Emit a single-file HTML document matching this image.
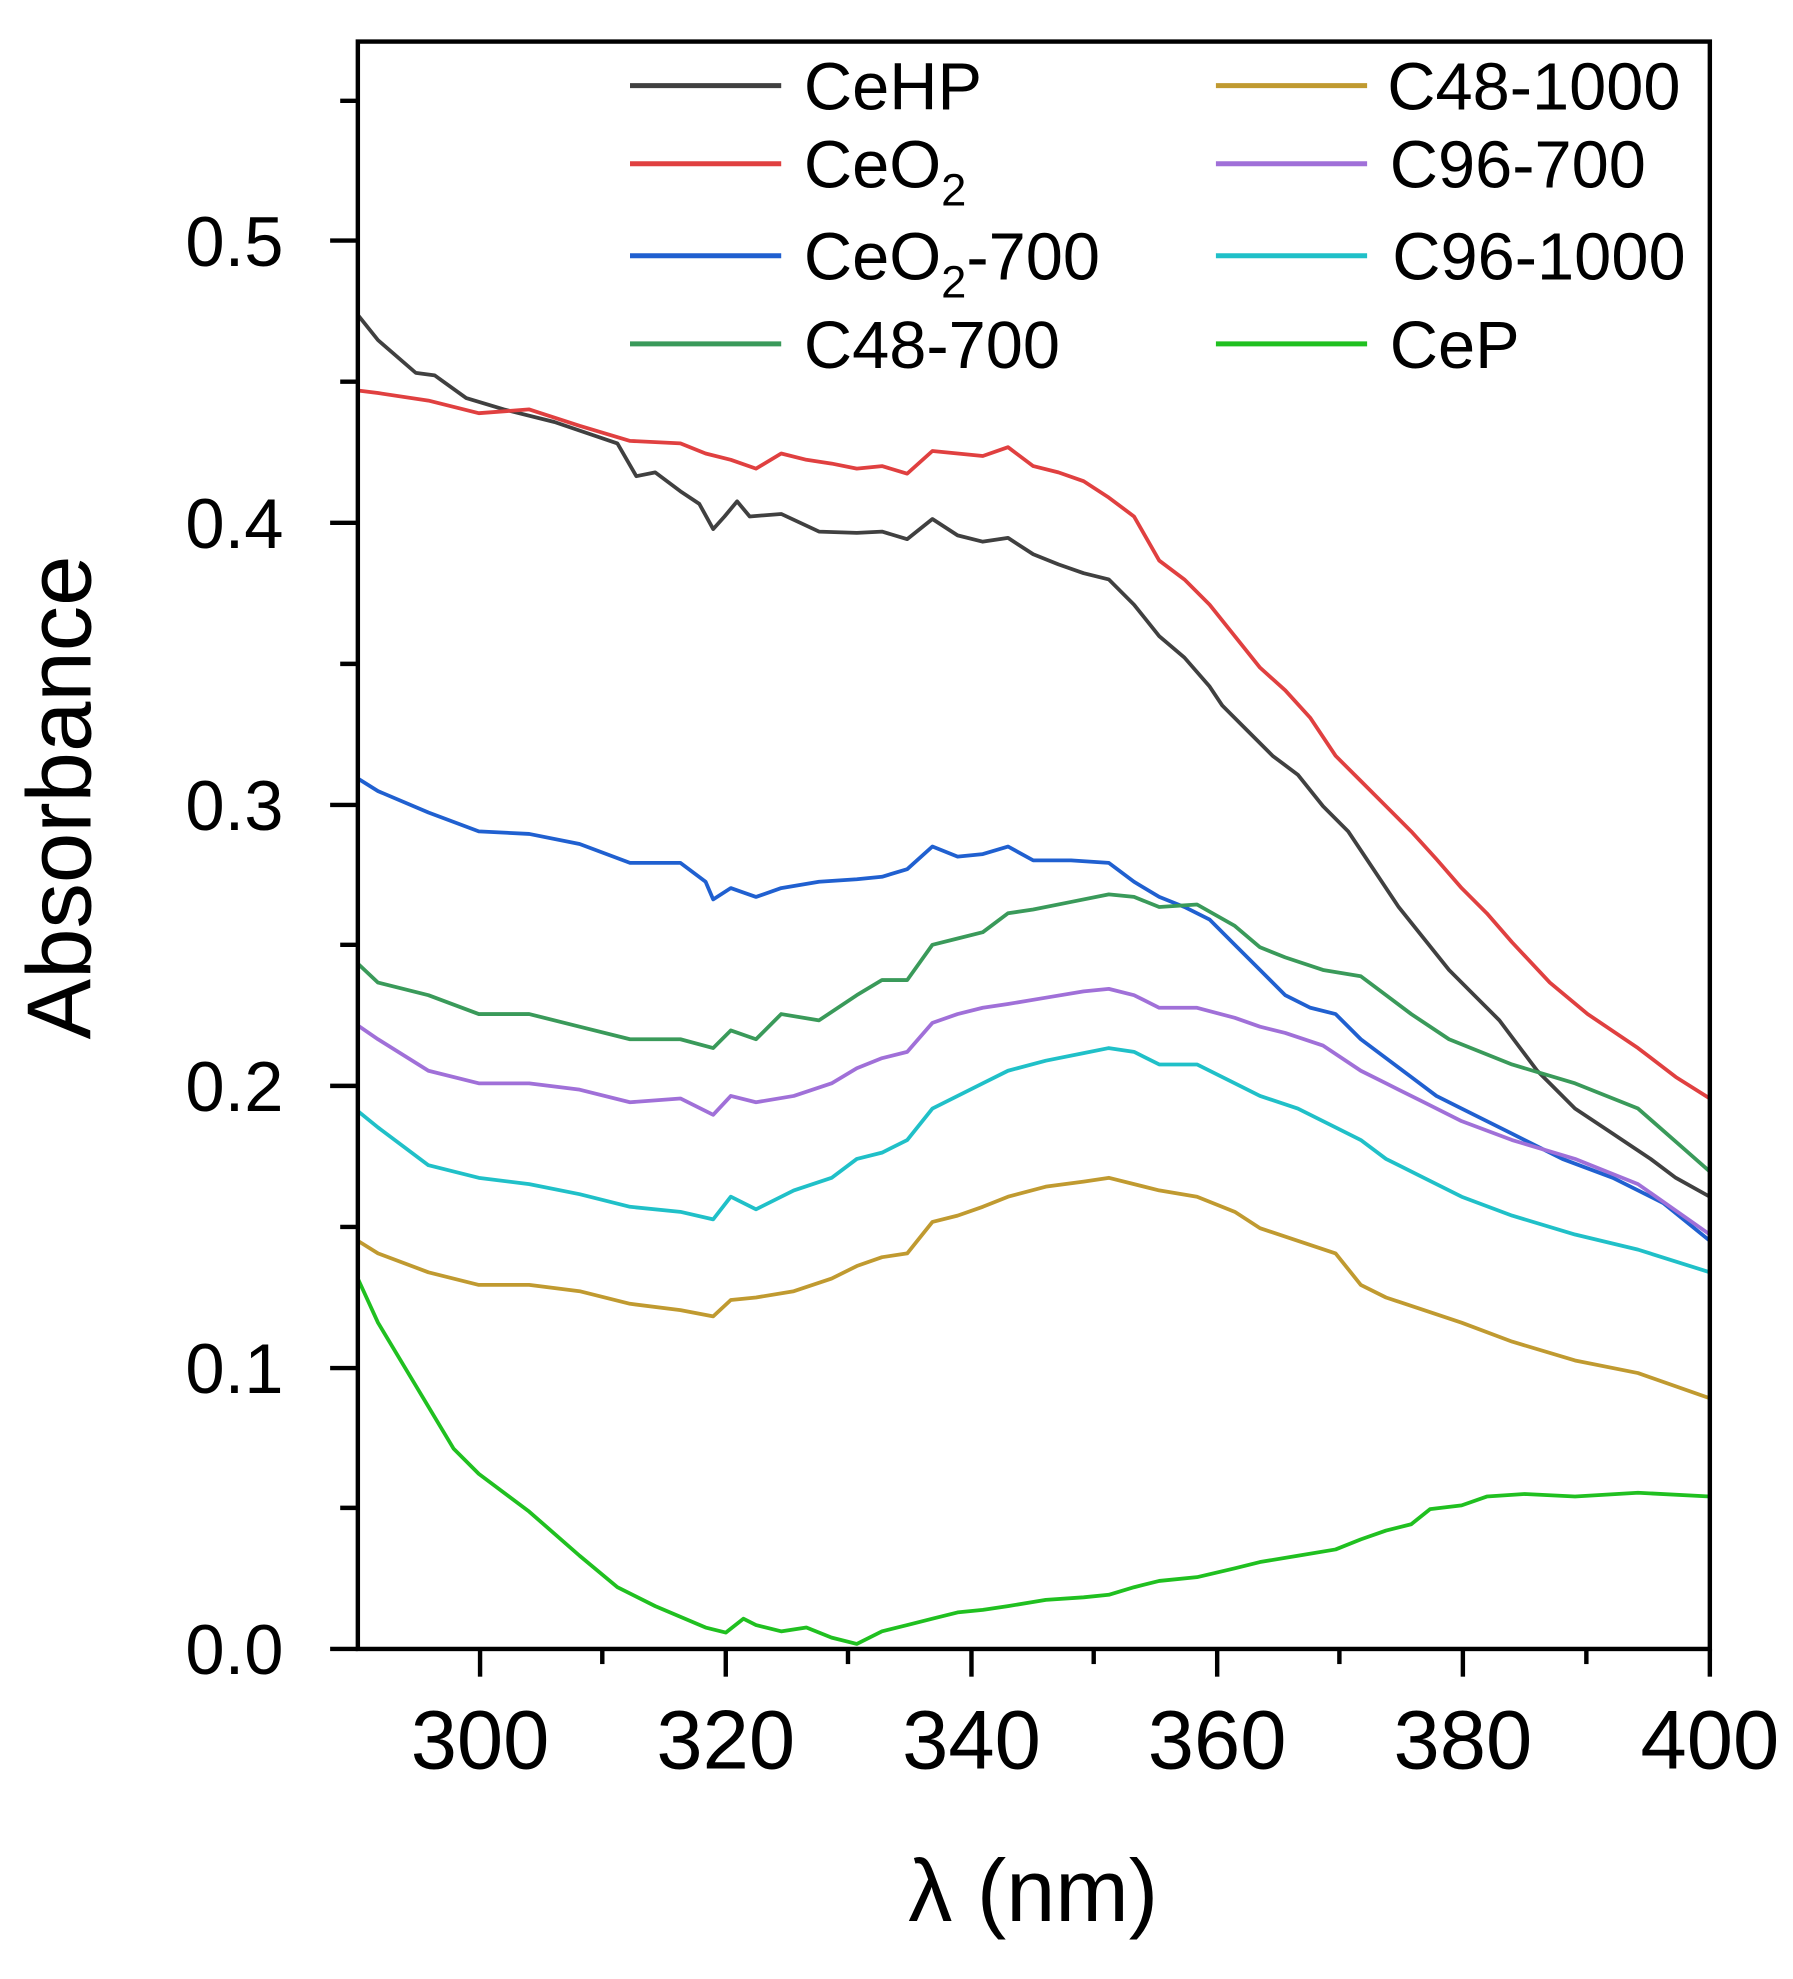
<!DOCTYPE html>
<html><head><meta charset="utf-8"><style>html,body{margin:0;padding:0;background:#fff}svg{display:block}</style></head>
<body>
<svg width="1793" height="1979" viewBox="0 0 1423 1571" preserveAspectRatio="none" xmlns="http://www.w3.org/2000/svg" font-family="Liberation Sans, Arial, sans-serif">
<rect width="1423" height="1571" fill="#fff"/>
<g fill="none" stroke-width="3" stroke-linejoin="round">
<polyline stroke="#404040" points="284,250 300,270 330,296 345,298 370,316 400,325 440,335 490,352 505,378 520,375 540,390 555,400 566,420 575,410 585,398 595,410 620,408 650,422 680,423 700,422 720,428 740,412 760,425 780,430 800,427 820,440 840,448 860,455 880,460 900,480 920,505 940,522 960,545 970,560 990,580 1010,600 1030,615 1050,640 1070,660 1090,690 1110,720 1130,745 1150,770 1170,790 1190,810 1220,850 1250,880 1280,900 1310,920 1330,935 1357,950"/>
<polyline stroke="#e04040" points="284,310 300,312 340,318 380,328 420,325 460,338 500,350 540,352 560,360 580,365 600,372 620,360 640,365 660,368 680,372 700,370 720,376 740,358 760,360 780,362 800,355 820,370 840,375 860,382 880,395 900,410 920,445 940,460 960,480 980,505 1000,530 1020,548 1040,570 1060,600 1080,620 1100,640 1120,660 1140,682 1160,705 1180,725 1200,748 1230,780 1260,805 1300,832 1330,855 1357,872"/>
<polyline stroke="#2060d0" points="284,618 300,628 340,645 380,660 420,662 460,670 500,685 540,685 560,700 566,714 580,705 600,712 620,705 650,700 680,698 700,696 720,690 740,672 760,680 780,678 800,672 820,683 850,683 880,685 900,700 920,712 940,720 960,730 980,750 1000,770 1020,790 1040,800 1060,805 1080,825 1100,840 1120,855 1140,870 1160,880 1200,900 1240,920 1280,935 1320,955 1357,985"/>
<polyline stroke="#3a9a5a" points="284,765 300,780 340,790 380,805 420,805 460,815 500,825 540,825 566,832 580,818 600,825 620,805 650,810 680,790 700,778 720,778 740,750 760,745 780,740 800,725 820,722 850,716 880,710 900,712 920,720 950,718 980,735 1000,752 1020,760 1050,770 1080,775 1100,790 1120,805 1150,825 1200,845 1250,860 1300,880 1357,930"/>
<polyline stroke="#a070d8" points="284,814 300,825 340,850 380,860 420,860 460,865 500,875 540,872 566,885 580,870 600,875 630,870 660,860 680,848 700,840 720,835 740,812 760,805 780,800 800,797 830,792 860,787 880,785 900,790 920,800 950,800 980,808 1000,815 1020,820 1050,830 1080,850 1100,860 1130,875 1160,890 1200,905 1250,920 1300,940 1357,980"/>
<polyline stroke="#20c0c8" points="284,882 300,895 340,925 380,935 420,940 460,948 500,958 540,962 566,968 580,950 600,960 630,945 660,935 680,920 700,915 720,905 740,880 760,870 780,860 800,850 830,842 860,836 880,832 900,835 920,845 950,845 980,860 1000,870 1030,880 1060,895 1080,905 1100,920 1130,935 1160,950 1200,965 1250,980 1300,992 1357,1010"/>
<polyline stroke="#c09a30" points="284,985 300,995 340,1010 380,1020 420,1020 460,1025 500,1035 540,1040 566,1045 580,1032 600,1030 630,1025 660,1015 680,1005 700,998 720,995 740,970 760,965 780,958 800,950 830,942 860,938 880,935 900,940 920,945 950,950 980,962 1000,975 1030,985 1060,995 1080,1020 1100,1030 1130,1040 1160,1050 1200,1065 1250,1080 1300,1090 1357,1110"/>
<polyline stroke="#20c020" points="284,1015 300,1050 330,1100 360,1150 380,1170 420,1200 460,1235 490,1260 520,1275 560,1292 576,1296 590,1285 600,1290 620,1295 640,1292 660,1300 680,1305 700,1295 720,1290 740,1285 760,1280 780,1278 800,1275 830,1270 860,1268 880,1266 900,1260 920,1255 950,1252 980,1245 1000,1240 1030,1235 1060,1230 1080,1222 1100,1215 1120,1210 1135,1198 1160,1195 1180,1188 1210,1186 1250,1188 1300,1185 1357,1188"/>
</g>
<rect x="284" y="33" width="1073" height="1276" fill="none" stroke="#000" stroke-width="3.5"/>
<g stroke="#000" stroke-width="3.5">
<line x1="262" y1="1309" x2="284" y2="1309"/><line x1="262" y1="1086" x2="284" y2="1086"/><line x1="262" y1="862" x2="284" y2="862"/><line x1="262" y1="639" x2="284" y2="639"/><line x1="262" y1="415" x2="284" y2="415"/><line x1="262" y1="191" x2="284" y2="191"/>
<line x1="270" y1="1197" x2="284" y2="1197"/><line x1="270" y1="974" x2="284" y2="974"/><line x1="270" y1="750" x2="284" y2="750"/><line x1="270" y1="527" x2="284" y2="527"/><line x1="270" y1="303" x2="284" y2="303"/><line x1="270" y1="80" x2="284" y2="80"/>
<line x1="381" y1="1309" x2="381" y2="1331"/><line x1="576" y1="1309" x2="576" y2="1331"/><line x1="771" y1="1309" x2="771" y2="1331"/><line x1="966" y1="1309" x2="966" y2="1331"/><line x1="1161" y1="1309" x2="1161" y2="1331"/><line x1="1357" y1="1309" x2="1357" y2="1331"/>
<line x1="478" y1="1309" x2="478" y2="1321"/><line x1="673" y1="1309" x2="673" y2="1321"/><line x1="868" y1="1309" x2="868" y2="1321"/><line x1="1063" y1="1309" x2="1063" y2="1321"/><line x1="1259" y1="1309" x2="1259" y2="1321"/>
</g>
<g font-size="56" fill="#000" text-anchor="end">
<text x="225" y="1329">0.0</text><text x="225" y="1106">0.1</text><text x="225" y="882">0.2</text><text x="225" y="659">0.3</text><text x="225" y="435">0.4</text><text x="225" y="211">0.5</text>
</g>
<g font-size="66" fill="#000" text-anchor="middle">
<text x="381" y="1404">300</text><text x="576" y="1404">320</text><text x="771" y="1404">340</text><text x="966" y="1404">360</text><text x="1161" y="1404">380</text><text x="1357" y="1404">400</text>
</g>
<text x="820" y="1525" font-size="70" text-anchor="middle">λ (nm)</text>
<text transform="translate(72,633) rotate(-90)" font-size="72" text-anchor="middle">Absorbance</text>
<g stroke-width="4">
<line x1="500" y1="68" x2="620" y2="68" stroke="#404040"/>
<line x1="500" y1="130" x2="620" y2="130" stroke="#e04040"/>
<line x1="500" y1="203" x2="620" y2="203" stroke="#2060d0"/>
<line x1="500" y1="273" x2="620" y2="273" stroke="#3a9a5a"/>
<line x1="965" y1="68" x2="1085" y2="68" stroke="#c09a30"/>
<line x1="965" y1="130" x2="1085" y2="130" stroke="#a070d8"/>
<line x1="965" y1="203" x2="1085" y2="203" stroke="#20c0c8"/>
<line x1="965" y1="273" x2="1085" y2="273" stroke="#20c020"/>
</g>
<g font-size="53" fill="#000">
<text x="638" y="87">CeHP</text>
<text x="638" y="149">CeO<tspan font-size="36" dy="14">2</tspan></text>
<text x="638" y="222">CeO<tspan font-size="36" dy="14">2</tspan><tspan dy="-14">-700</tspan></text>
<text x="638" y="292">C48-700</text>
<text x="1101" y="87">C48-1000</text>
<text x="1103" y="149">C96-700</text>
<text x="1105" y="222">C96-1000</text>
<text x="1103" y="292">CeP</text>
</g>
</svg>
</body></html>
